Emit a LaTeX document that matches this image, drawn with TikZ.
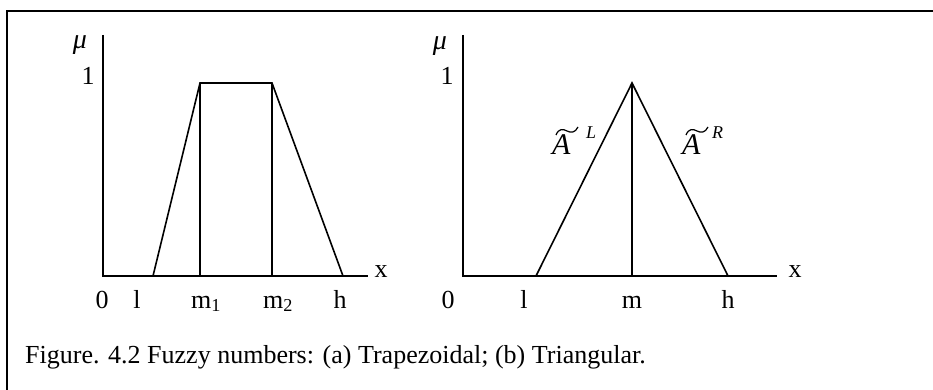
\documentclass[tikz,border=0pt]{standalone}
\usepackage{fontspec}
\setmainfont{Liberation Serif}
\begin{document}
\begin{tikzpicture}[x=1pt,y=-1pt,
  lbl/.style={inner sep=0pt,font=\fontsize{26}{30}\selectfont},
  mu/.style={inner sep=0pt,font=\fontsize{28}{32}\selectfont\itshape},
  fz/.style={inner sep=0pt,font=\fontsize{30}{34}\selectfont\itshape},
  sup/.style={inner sep=0pt,font=\fontsize{18}{22}\selectfont\itshape},
  tld/.style={line width=1.2pt},
  curve/.style={line width=1.6pt,line join=miter},
  axis/.style={line width=1.6pt}]
\useasboundingbox (0,0) rectangle (933,390);
% frame (top and left only)
\coordinate (ftl) at (7,11);
\coordinate (ftr) at (933,11);
\coordinate (fbl) at (7,390);
\draw[line width=1.8pt] (fbl) -- (ftl) -- (ftr);

% ---------- left plot ----------
\coordinate (ao) at (103,276);
\coordinate (atop) at (103,35);
\coordinate (aend) at (368,276);
\draw[axis] (atop) -- (ao) -- (aend);
\coordinate (al) at (153,276);
\coordinate (am1) at (200,83);
\coordinate (am2) at (272,83);
\coordinate (ah) at (343,276);
\coordinate (am1b) at (200,276);
\coordinate (am2b) at (272,276);
\draw[curve] (al) -- (am1) -- (am2) -- (ah);
\draw[curve] (am1) -- (am1b);
\draw[curve] (am2) -- (am2b);
\node[mu] (amu) at (80,45) {μ};
\node[lbl,anchor=base] (aone) at (88,85) {1};
\node[lbl,anchor=base] (ax) at (381,277) {x};
\node[lbl,anchor=base] (a0) at (102,308) {0};
\node[lbl,anchor=base] (alab) at (137,308) {l};
\node[lbl,anchor=base] (am1l) at (206,308) {m\textsubscript{1}};
\node[lbl,anchor=base] (am2l) at (278,308) {m\textsubscript{2}};
\node[lbl,anchor=base] (ahl) at (340,308) {h};

% ---------- right plot ----------
\coordinate (bo) at (463,276);
\coordinate (btop) at (463,35);
\coordinate (bend) at (777,276);
\draw[axis] (btop) -- (bo) -- (bend);
\coordinate (bl) at (536,276);
\coordinate (bm) at (632,83);
\coordinate (bmb) at (632,276);
\coordinate (bh) at (728,276);
\draw[curve] (bl) -- (bm) -- (bh);
\draw[curve] (bm) -- (bmb);
\node[mu] (bmu) at (440,46) {μ};
\node[lbl,anchor=base] (bone) at (447,85) {1};
\node[lbl,anchor=base] (bx) at (795,277) {x};
\node[lbl,anchor=base] (b0) at (448,308) {0};
\node[lbl,anchor=base] (blab) at (524,308) {l};
\node[lbl,anchor=base] (bml) at (632,308) {m};
\node[lbl,anchor=base] (bhl) at (728,308) {h};
% A-tilde L
\node[fz,anchor=base west] (AL) at (552,155) {A};
\draw[tld] (556,135) .. controls (559,128) and (563,129) .. (567,131)
  .. controls (571,133) and (575,133) .. (578,127);
\node[sup,anchor=base west] (ALs) at (586,139) {L};
% A-tilde R
\node[fz,anchor=base west] (AR) at (682,155) {A};
\draw[tld] (686,135) .. controls (689,128) and (693,129) .. (697,131)
  .. controls (701,133) and (705,133) .. (708,127);
\node[sup,anchor=base west] (ARs) at (712,139) {R};

% caption
\node[lbl,anchor=base west] (cap) at (25,363)
  {Figure. 4.2 Fuzzy numbers: (a) Trapezoidal; (b) Triangular.};
\end{tikzpicture}
\end{document}
